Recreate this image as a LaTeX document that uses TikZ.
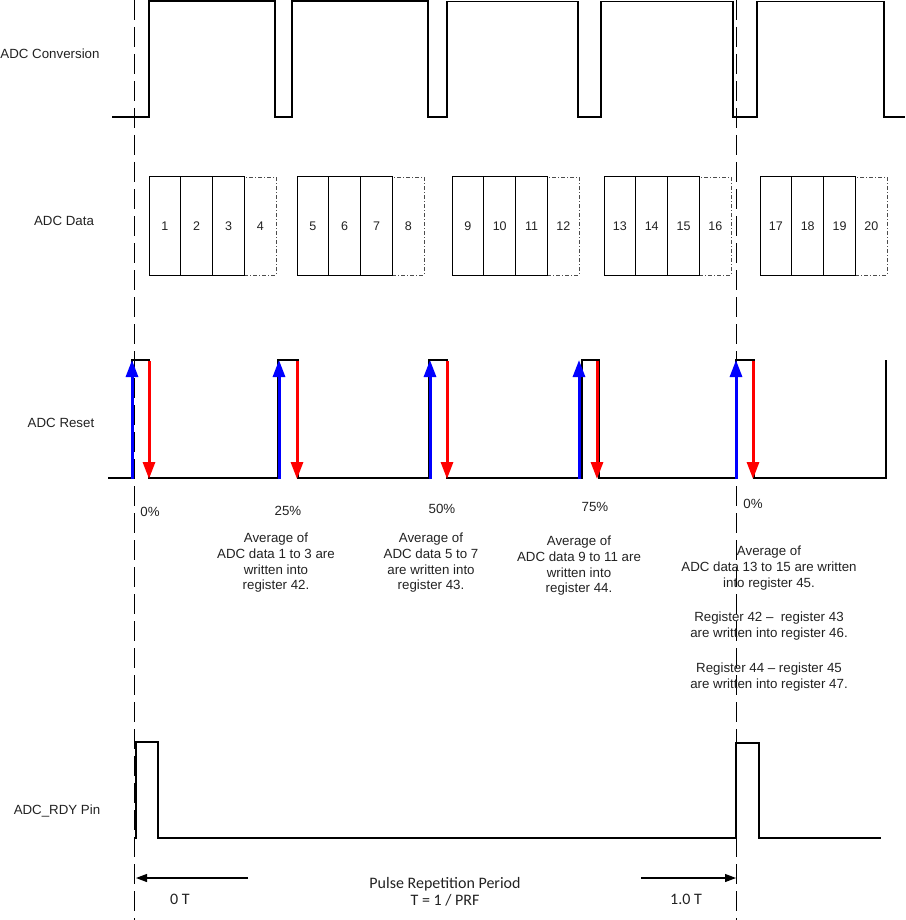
\documentclass[tikz,border=0pt]{standalone}
\usepackage{fontspec}
\setmainfont{Liberation Sans}
\newfontfamily\calib{Carlito}
\usetikzlibrary{arrows.meta}
\definecolor{txt}{HTML}{222222}
\begin{document}
\begin{tikzpicture}[x=1pt,y=-1pt,
  wave/.style={line width=1.3pt, line join=miter, line cap=rect},
  vdash/.style={line width=1pt, dash pattern=on 20pt off 7pt},
  lbl/.style={font=\fontsize{13.3}{15.7}\selectfont, inner sep=0pt, text=txt, align=center},
  numlbl/.style={font=\fontsize{12.5}{14}\selectfont, text=txt},
  cellbox/.style={draw, line width=1pt, minimum width=31.8pt, minimum height=98pt, inner sep=0pt},
  ghostbox/.style={draw=black!70, line width=0.8pt, dash pattern=on 4pt off 2pt on 1pt off 2pt, minimum width=31.8pt, minimum height=98pt, inner sep=0pt},
  uparrow/.style={draw=blue, line width=3pt, -{Triangle[length=17pt,width=12pt]}},
  downarrow/.style={draw=red, line width=3pt, -{Triangle[length=17pt,width=12pt]}},
  period/.style={line width=1.2pt, -{Triangle[length=11pt,width=8pt]}},
  cal/.style={font=\calib\fontsize{16}{16.5}\selectfont, inner sep=0pt, text=txt, align=center}
]
\useasboundingbox (0,0) rectangle (905,920);

% dashed reference lines
\coordinate (d1t) at (134,0); \coordinate (d1b) at (134,920);
\coordinate (d2t) at (736,0); \coordinate (d2b) at (736,920);
\draw[vdash] (d1t) -- (d1b);
\draw[vdash] (d2t) -- (d2b);

% row labels
\node[lbl] (lconv) at (50,54) {ADC Conversion};
\node[lbl] (ldata) at (64,221) {ADC Data};
\node[lbl] (lreset) at (61,423) {ADC Reset};
\node[lbl] (lrdy) at (57,811) {ADC\_RDY Pin};

% ADC conversion waveform
\draw[wave] (113,117) -- (149,117) -- (149,1) -- (275,1) -- (275,117) -- (292,117) -- (292,1)
  -- (428,1) -- (428,117) -- (447,117) -- (447,1.5) -- (578,1.5) -- (578,117) -- (601,117)
  -- (601,1.5) -- (733,1.5) -- (733,117) -- (757,117) -- (757,1.5) -- (884,1.5) -- (884,117) -- (904,117);

% ADC data cells
\foreach \g/\x in {0/149,1/297,2/452,3/604,4/760}{
  \pgfmathtruncatemacro\nd{\g*4+4}
  \node[ghostbox, numlbl] (cell\nd) at ({\x+15.9+3*31.8},226) {\nd};
  \foreach \k in {0,1,2}{
    \pgfmathtruncatemacro\n{\g*4+\k+1}
    \node[cellbox, numlbl] (cell\n) at ({\x+15.9+\k*31.8},226) {\n};
  }
}

% ADC reset waveform
\draw[wave] (109,478) -- (132,478) -- (132,360) -- (149,360) -- (149,478) -- (278,478) -- (278,360)
  -- (298,360) -- (298,478) -- (429,478) -- (429,360) -- (447,360) -- (447,478) -- (582,478)
  -- (582,360) -- (599,360) -- (599,478) -- (736,478) -- (736,360) -- (754,360) -- (754,478)
  -- (886,478) -- (886,361);

% reset arrows
\foreach \i/\xb/\xr in {1/132/149,2/279/297,3/430/447,4/579/597,5/736/753}{
  \coordinate (bl\i) at (\xb,479); \coordinate (bt\i) at (\xb,360);
  \coordinate (rt\i) at (\xr,361); \coordinate (rb\i) at (\xr,479);
  \draw[uparrow] (bl\i) -- (bt\i);
  \draw[downarrow] (rt\i) -- (rb\i);
}

% percent labels
\node[lbl] (p0) at (150,512) {0\%};
\node[lbl] (p25) at (288,511) {25\%};
\node[lbl] (p50) at (442,509) {50\%};
\node[lbl] (p75) at (595,507) {75\%};
\node[lbl] (p100) at (753,504) {0\%};

% descriptions
\node[lbl, anchor=north] (t1) at (276,533) {Average of\\ADC data 1 to 3 are\\written into\\register 42.};
\node[lbl, anchor=north] (t2) at (431,533) {Average of\\ADC data 5 to 7\\are written into\\register 43.};
\node[lbl, anchor=north] (t3) at (579,536) {Average of\\ADC data 9 to 11 are\\written into\\register 44.};
\node[lbl, anchor=north] (t4) at (769,546) {Average of\\ADC data 13 to 15 are written\\into register 45.\\[19pt]Register 42 \textendash{}\ \ register 43\\are written into register 46.\\[19pt]Register 44 \textendash{} register 45\\are written into register 47.};

% ADC_RDY waveform
\draw[wave] (136,838) -- (136,742) -- (158,742) -- (158,838) -- (736,838) -- (736,743) -- (759,743)
  -- (759,838) -- (880,838);

% period arrows
\coordinate (pa1) at (248,878); \coordinate (pb1) at (136,878);
\coordinate (pa2) at (641,878); \coordinate (pb2) at (736,878);
\draw[period] (pa1) -- (pb1);
\draw[period] (pa2) -- (pb2);
\node[cal] (t0) at (180,899) {0 T};
\node[cal] (tprp) at (445,892) {Pulse Repetition Period\\T = 1 / PRF};
\node[cal] (t10) at (686,899) {1.0 T};
\end{tikzpicture}
\end{document}
